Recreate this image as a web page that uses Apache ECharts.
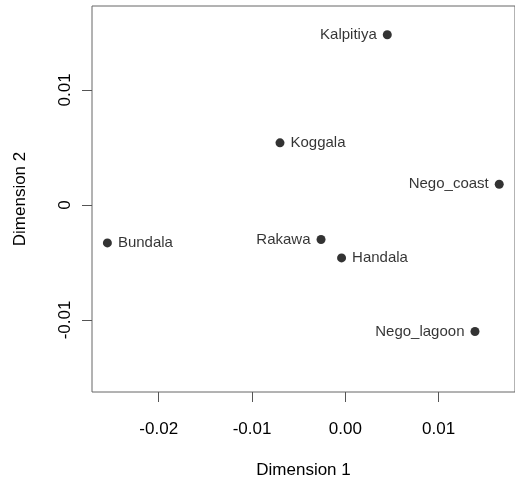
<!DOCTYPE html>
<html>
<head>
<meta charset="utf-8">
<script src="https://cdn.jsdelivr.net/npm/echarts@6/dist/echarts.min.js"></script>
<style>
  html, body { margin: 0; padding: 0; background: #fff; }
  #chart { width: 515px; height: 479px; }
</style>
</head>
<body>
<div id="chart"></div>
<script>
// site names and MDS coordinates
var sites = ['Kalpitiya', 'Koggala', 'Nego_coast', 'Bundala', 'Rakawa', 'Handala', 'Nego_lagoon'];
var dim1 = [0.0045, -0.0070, 0.0165, -0.0255, -0.0026, -0.0004, 0.0139];
var dim2 = [0.0148, 0.0054, 0.0018, -0.0033, -0.0030, -0.0046, -0.0110];
// which side the label sits on
var labelSide = ['left', 'right', 'left', 'right', 'left', 'right', 'left'];

var xTicks = [-0.02, -0.01, 0, 0.01];
var xTickLabels = ['-0.02', '-0.01', '0.00', '0.01'];
var yTicks = [-0.01, 0, 0.01];
var yTickLabels = ['-0.01', '0', '0.01'];

var font = 'Liberation Sans, Arial, sans-serif';

var pts = [];
for (var i = 0; i < sites.length; i++) {
    pts.push({
        name: sites[i],
        value: [dim1[i], dim2[i]],
        label: { position: labelSide[i] }
    });
}

function lookup(ticks, labels) {
    return function (v) {
        for (var k = 0; k < ticks.length; k++) {
            if (Math.abs(ticks[k] - v) < 1e-9) return labels[k];
        }
        return '';
    };
}

var myChart = echarts.init(document.getElementById('chart'), null, { renderer: 'canvas' });
myChart.setOption({
    backgroundColor: '#fff',
    animation: false,
    textStyle: { fontFamily: font },
    grid: {
        left: 92, top: 6, width: 423, height: 386,
        containLabel: false,
        outerBoundsMode: 'none',
        show: true, borderColor: '#666', borderWidth: 1,
        backgroundColor: 'transparent'
    },
    xAxis: {
        type: 'value',
        min: -0.02715,
        max: 0.01819,
        name: 'Dimension 1',
        nameLocation: 'middle',
        nameGap: 70,
        nameTextStyle: { fontSize: 17, color: '#000', fontFamily: font },
        axisLine: { show: false, onZero: false },
        splitLine: { show: false },
        axisTick: {
            show: true, inside: false, length: 10,
            customValues: xTicks,
            lineStyle: { color: '#555' }
        },
        axisLabel: {
            customValues: xTicks,
            formatter: lookup(xTicks, xTickLabels),
            margin: 29, fontSize: 17, color: '#000', fontFamily: font
        }
    },
    yAxis: {
        type: 'value',
        min: -0.01626,
        max: 0.01730,
        name: 'Dimension 2',
        nameLocation: 'middle',
        nameRotate: 90,
        nameGap: 63,
        nameTextStyle: { fontSize: 17, color: '#000', fontFamily: font },
        axisLine: { show: false, onZero: false },
        splitLine: { show: false },
        axisTick: {
            show: true, inside: false, length: 10,
            customValues: yTicks,
            lineStyle: { color: '#555' }
        },
        axisLabel: {
            customValues: yTicks,
            formatter: lookup(yTicks, yTickLabels),
            rotate: 90,
            margin: 18, fontSize: 17, color: '#000', fontFamily: font
        }
    },
    series: [{
        type: 'scatter',
        data: pts,
        symbol: 'circle',
        symbolSize: 9,
        itemStyle: { color: '#000' },
        label: {
            show: true,
            formatter: '{b}',
            distance: 6,
            fontSize: 15,
            color: '#000',
            fontFamily: font
        }
    }]
});
</script>
</body>
</html>
